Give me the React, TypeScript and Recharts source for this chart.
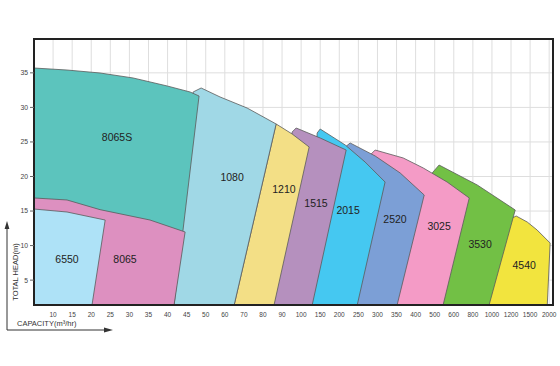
import React from 'react';
import { ComposedChart, Area, XAxis, YAxis, CartesianGrid, Scatter, ReferenceArea } from 'recharts';

const CAPACITY_LABELS = ['10','15','20','25','30','35','40','45','50','60','70','80','90','100','150','200','250','300','350','400','500','600','800','1000','1200','1500','2000'];
const CAPACITY_INDEX = CAPACITY_LABELS.map((_, i) => i);
const HEAD_TICKS = [5, 10, 15, 20, 25, 30, 35];
const X_MIN = -1;
const X_MAX = 26.2;
const Y_MIN = 1.4;
const Y_MAX = 39.9;

// pump coverage outlines: [capacity index, head m]
const pump4540 = [[22.6,1.4],[23.96,13.85],[24.27,14.28],[24.85,13.41],[25.37,12.25],[26.05,10.37],[25.9,1.4]];
const pump3530 = [[20.1,1.4],[19.87,20.51],[20.23,21.66],[22.23,18.77],[24.22,15.15],[22.85,1.4]];
const pump3025 = [[17.7,1.4],[16.62,23.11],[16.88,23.83],[18.35,22.68],[19.4,21.23],[20.65,19.2],[21.81,16.89],[20.44,1.4]];
const pump2520 = [[15.6,1.4],[15.31,24.27],[15.57,24.85],[16.88,22.97],[18.19,20.51],[19.45,17.32],[18.03,1.4]];
const pump2015 = [[13.3,1.4],[13.84,26.3],[14.0,26.87],[15.31,24.56],[16.35,22.1],[17.4,19.2],[15.94,1.4]];
const pump1515 = [[11.3,1.4],[12.53,26.44],[12.74,27.02],[14.0,25.57],[15.36,23.83],[13.58,1.4]];
const pump1210 = [[9.49,1.4],[11.69,27.6],[12.53,26.15],[13.42,24.27],[11.58,1.4]];
const pump1080 = [[6.13,1.4],[7.34,32.23],[7.76,32.81],[8.75,31.51],[10.17,29.91],[11.69,27.6],[9.49,1.4]];
const pump8065S = [[-1,1.4],[-1,35.7],[0.73,35.41],[2.46,34.98],[4.19,34.26],[5.98,33.1],[7.18,32.23],[7.65,31.65],[6.34,1.4]];
const pump8065 = [[-1,1.4],[-1,16.89],[0.73,16.6],[2.46,15.2],[5.08,13.7],[6.92,11.97],[6.34,1.4]];
const pump6550 = [[-1,1.4],[-1,15.29],[0.73,14.86],[2.73,13.7],[2.04,1.4]];

const PUMP_NAMES = ['6550','8065','8065S','1080','1210','1515','2015','2520','3025','3530','4540'];
const LABEL_X = [0.73, 3.77, 3.35, 9.38, 12.1, 13.78, 15.46, 17.92, 20.23, 22.38, 24.69];
const LABEL_Y = [8.06, 8.06, 25.7, 19.93, 18.19, 16.16, 15.15, 13.85, 12.83, 10.23, 7.19];

const SERIES = [
  { name: '4540', pts: pump4540, color: '#f2e43e' },
  { name: '3530', pts: pump3530, color: '#72c045' },
  { name: '3025', pts: pump3025, color: '#f49bc6' },
  { name: '2520', pts: pump2520, color: '#7c9fd6' },
  { name: '2015', pts: pump2015, color: '#45c8f1' },
  { name: '1515', pts: pump1515, color: '#b590be' },
  { name: '1210', pts: pump1210, color: '#f3df86' },
  { name: '1080', pts: pump1080, color: '#a0d8e6' },
  { name: '8065S', pts: pump8065S, color: '#5cc4bd' },
  { name: '8065', pts: pump8065, color: '#dd90c0' },
  { name: '6550', pts: pump6550, color: '#aee2f7' },
];

const labelData = PUMP_NAMES.map((name, i) => ({ name, x: LABEL_X[i], y: LABEL_Y[i] }));

const FONT = '"Liberation Sans", Arial, sans-serif';

const renderLabel = (props: any) => (
  <text x={props.cx} y={props.cy} textAnchor="middle" dominantBaseline="central" fontSize={10.5} fill="#222" fontFamily={FONT}>
    {props.payload.name}
  </text>
);

export default function App() {
  return (
    <div style={{ position: 'absolute', left: 0, top: 0, width: 560, height: 366 }}>
      <ComposedChart width={560} height={366} margin={{ top: 39, right: 7, bottom: 31, left: 0 }}>
        <CartesianGrid stroke="#dedede" strokeWidth={1} />
        <XAxis
          dataKey="x"
          type="number"
          domain={[X_MIN, X_MAX]}
          ticks={CAPACITY_INDEX}
          interval={0}
          allowDataOverflow
          tickFormatter={(v: number) => CAPACITY_LABELS[v] ?? ''}
          height={30}
          axisLine={false}
          tickLine={false}
          tickSize={0}
          tickMargin={7}
          tick={{ fontSize: 6.5, fill: '#444', fontFamily: FONT }}
        />
        <YAxis
          type="number"
          domain={[Y_MIN, Y_MAX]}
          ticks={HEAD_TICKS}
          interval={0}
          allowDataOverflow
          width={34}
          axisLine={false}
          tickSize={4}
          tickMargin={2}
          tickLine={{ stroke: '#666' }}
          tick={{ fontSize: 6.8, fill: '#444', fontFamily: FONT }}
        />
        {SERIES.map((s) => (
          <Area
            key={s.name}
            data={s.pts.map(([x, y]) => ({ x, y }))}
            dataKey="y"
            type="linear"
            fill={s.color}
            fillOpacity={1}
            stroke="#5a5a5a"
            strokeWidth={0.8}
            dot={false}
            activeDot={false}
            isAnimationActive={false}
          />
        ))}
        <Scatter data={labelData} dataKey="y" shape={renderLabel} isAnimationActive={false} />
        <ReferenceArea x1={X_MIN} x2={X_MAX} y1={Y_MIN} y2={Y_MAX} fill="none" fillOpacity={0} stroke="#222" strokeWidth={2} ifOverflow="visible" />
      </ComposedChart>
      <svg width={560} height={366} style={{ position: 'absolute', left: 0, top: 0, pointerEvents: 'none' }}>
        <line x1={7} y1={330} x2={7} y2={226} stroke="#333" strokeWidth={1} />
        <polygon points="7,221 4.6,229 9.4,229" fill="#333" />
        <line x1={7} y1={330} x2={106} y2={330} stroke="#333" strokeWidth={1} />
        <polygon points="113,330 104,327.6 104,332.4" fill="#333" />
        <text x={15} y={272} transform="rotate(-90 15 272)" textAnchor="middle" dominantBaseline="central" fontSize={7.5} fill="#333" fontFamily={FONT}>TOTAL HEAD(m)</text>
        <text x={17} y={326} fontSize={7.5} fill="#333" fontFamily={FONT}>CAPACITY(m³/hr)</text>
      </svg>
    </div>
  );
}
